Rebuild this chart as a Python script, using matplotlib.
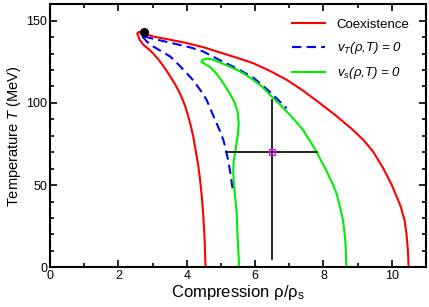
import matplotlib
matplotlib.use('Agg')
import matplotlib.pyplot as plt
from matplotlib.ticker import MultipleLocator

plt.rcParams['font.family'] = ['Liberation Sans', 'DejaVu Sans']
plt.rcParams['mathtext.fontset'] = 'custom'
plt.rcParams['mathtext.rm'] = 'Liberation Sans'
plt.rcParams['mathtext.it'] = 'Liberation Sans:italic'

# Coexistence boundary (left branch up, over the top, right branch down)
coex_x = [4.55, 4.53, 4.51, 4.48, 4.44, 4.39, 4.34, 4.27, 4.19, 4.12, 4.04, 3.97,
          3.88, 3.77, 3.64, 3.49, 3.33, 3.18, 3.02, 2.87, 2.73, 2.62, 2.55,
          2.60, 3.02, 3.50, 4.00, 4.50, 4.97, 5.45, 5.94, 6.43, 6.92, 7.40, 7.89,
          8.38, 8.86, 9.18, 9.45, 9.74, 10.00, 10.25, 10.37, 10.43, 10.47, 10.49]
coex_T = [0, 12.5, 22.0, 32.9, 43.0, 53.2, 61.3, 70.0, 79.5, 86.0, 92.0, 97.0,
          102.0, 107.0, 112.0, 117.0, 122.0, 126.2, 130.0, 133.0, 135.4, 138.5, 142.3,
          143.2, 140.4, 138.5, 136.4, 133.8, 130.7, 127.6, 124.2, 119.5, 114.1, 107.5, 99.9,
          92.0, 83.6, 77.2, 70.4, 60.5, 50.0, 37.5, 28.8, 20.0, 10.0, 0]

# isothermal spinodal v_T = 0
vt_x = [5.34, 5.28, 5.21, 5.14, 5.07, 4.97, 4.87, 4.72, 4.58, 4.39, 4.20, 4.00,
        3.75, 3.51, 3.25, 3.02, 2.85, 2.66,
        2.75, 3.02, 3.61, 4.10, 4.48, 4.97, 5.46, 5.94, 6.43, 6.92]
vt_T = [48.0, 57.0, 65.3, 72.0, 77.5, 83.0, 87.7, 95.0, 101.9, 108.0, 113.5, 118.1,
        123.5, 128.3, 131.5, 134.3, 137.0, 141.3,
        140.5, 139.0, 136.2, 133.8, 131.3, 126.0, 121.0, 115.5, 106.8, 96.8]

# isentropic spinodal v_s = 0
vs_x = [5.53, 5.52, 5.50, 5.48, 5.46, 5.42, 5.38, 5.36, 5.37, 5.41, 5.46, 5.50,
        5.52, 5.49, 5.43, 5.36, 5.22, 5.10, 4.97, 4.82, 4.68, 4.52, 4.43, 4.47,
        4.58, 4.77, 4.97, 5.20, 5.46, 5.70, 5.94, 6.20, 6.43, 6.68, 6.92, 7.16,
        7.40, 7.60, 7.79, 7.95, 8.08, 8.25, 8.38, 8.48, 8.57, 8.62, 8.65, 8.66, 8.67]
vs_T = [0, 6.0, 12.5, 22.0, 32.9, 42.0, 50.0, 58.0, 64.0, 69.4, 76.0, 81.6,
        88.0, 94.0, 98.5, 101.9, 107.0, 111.0, 115.1, 119.0, 121.8, 123.8, 125.0, 126.3,
        127.0, 126.3, 124.6, 122.6, 120.2, 117.5, 114.1, 110.0, 105.0, 100.0, 94.8, 89.5,
        83.6, 77.0, 70.5, 64.0, 59.0, 51.5, 45.0, 37.0, 28.8, 20.0, 12.5, 6.0, 0]

# critical point and example state with its range bars
crit = (2.75, 143.0)
state = (6.5, 70.0)
hbar = (5.16, 7.80)
vbar = (5.0, 102.0)

fig = plt.figure(figsize=(4.29, 3.07), dpi=100)
ax = fig.add_axes([0.1166, 0.1293, 0.8765, 0.8567])

ax.plot(coex_x, coex_T, color='#ff0000', lw=1.5, label='Coexistence')
ax.plot(vt_x, vt_T, color='#0000ff', lw=1.5, ls=(0, (4.5, 2.5)),
        label='$v_T$(ρ,$T$) = 0')
ax.plot(vs_x, vs_T, color='#00ee00', lw=1.5, label='$v_s$(ρ,$T$) = 0')

ax.plot(hbar, [state[1], state[1]], color='black', lw=1.2)
ax.plot([state[0], state[0]], vbar, color='black', lw=1.2)
ax.plot(*state, marker='s', ms=5, mfc='none', mec='#ff00ff', mew=1.0)
ax.plot(*crit, marker='o', ms=5.5, color='black')

ax.set_xlim(0, 11)
ax.set_ylim(0, 160)
ax.xaxis.set_major_locator(MultipleLocator(2))
ax.xaxis.set_minor_locator(MultipleLocator(1))
ax.yaxis.set_major_locator(MultipleLocator(50))
ax.yaxis.set_minor_locator(MultipleLocator(10))
ax.tick_params(which='both', direction='in', top=True, right=True, width=1.2,
               labelsize=9, pad=2)
ax.tick_params(which='major', length=5)
ax.tick_params(which='minor', length=3)
for s in ax.spines.values():
    s.set_linewidth(1.5)

ax.set_xlabel('Compression ρ/ρ$_\\mathrm{s}$', fontsize=12, labelpad=1)
ax.set_ylabel('Temperature $T$ (MeV)', fontsize=10.5, labelpad=2)

leg = ax.legend(loc='upper left', bbox_to_anchor=(0.643, 0.945), frameon=False,
                fontsize=9.5, handlelength=2.5, handletextpad=0.9,
                labelspacing=0.7, borderpad=0, borderaxespad=0)
for t in leg.get_texts()[1:]:
    t.set_style('italic')

fig.savefig('out.png', dpi=100)
